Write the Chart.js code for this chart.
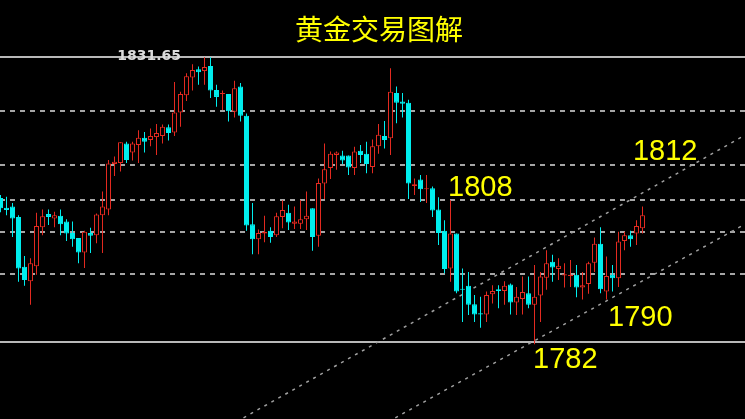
<!DOCTYPE html>
<html>
<head>
<meta charset="utf-8">
<script src="https://cdn.jsdelivr.net/npm/chart.js@4.4.1/dist/chart.umd.min.js"></script>
<style>
html,body{margin:0;padding:0;background:#000;overflow:hidden;}
#wrap{width:745px;height:419px;position:relative;background:#000;}
canvas{display:block;}
</style>
</head>
<body>
<div id="wrap"><canvas id="c" width="745" height="419"></canvas></div>
<script>
const titleText = '黄金交易图解';
const topLevelLabel = '1831.65';

const opens = [1807.1,1805.4,1805.6,1803.8,1795.1,1792.6,1795.2,1802.0,1804.3,1803.5,
1804.0,1803.0,1801.0,1800.1,1797.6,1801.0,1800.6,1804.1,1805.1,1813.0,
1813.2,1816.6,1815.0,1816.3,1817.6,1817.2,1817.7,1817.9,1819.4,1818.5,
1822.0,1825.0,1828.1,1829.5,1829.2,1830.1,1825.9,1825.2,1825.2,1822.1,
1826.5,1821.4,1802.5,1799.9,1800.9,1801.4,1800.6,1803.8,1804.5,1802.6,
1802.6,1803.4,1805.3,1800.5,1809.6,1812.3,1814.6,1814.5,1814.5,1812.3,
1815.3,1814.8,1812.5,1816.1,1817.9,1817.5,1825.4,1823.9,1823.7,1809.2,
1810.3,1808.6,1808.8,1805.1,1801.4,1794.8,1800.9,1791.3,1791.8,1788.6,
1787.0,1786.8,1790.3,1791.2,1790.9,1792.0,1788.9,1789.5,1790.5,1788.5,
1790.1,1793.2,1796.0,1794.7,1793.6,1793.5,1793.7,1791.5,1792.1,1795.8,
1799.1,1790.8,1793.7,1793.1,1799.6,1800.6,1800.9,1801.8];

const highs = [1807.6,1807.3,1806.2,1804.1,1797.0,1796.6,1804.5,1805.1,1805.1,1804.7,
1805.1,1803.4,1803.0,1800.1,1801.4,1801.9,1804.4,1808.2,1813.7,1814.3,
1816.8,1816.9,1816.9,1818.9,1818.6,1819.2,1820.0,1819.9,1819.9,1827.3,
1825.6,1828.8,1830.4,1830.0,1831.6,1831.6,1826.8,1825.8,1825.2,1827.5,
1827.1,1821.8,1806.2,1801.6,1804.0,1802.0,1804.5,1806.7,1805.9,1805.6,
1806.7,1808.2,1805.3,1810.5,1816.6,1815.2,1815.2,1815.3,1814.5,1816.0,
1816.3,1816.9,1817.3,1820.0,1820.5,1829.7,1826.5,1825.4,1824.2,1810.5,
1811.1,1811.1,1809.1,1807.2,1803.2,1806.7,1800.9,1794.8,1794.2,1790.2,
1789.9,1790.8,1791.9,1791.9,1792.6,1792.2,1791.6,1793.4,1793.4,1795.4,
1794.2,1798.0,1797.2,1796.6,1795.7,1796.3,1795.4,1794.2,1796.0,1800.2,
1802.0,1796.9,1795.4,1801.2,1801.2,1801.4,1803.2,1805.6];

const lows = [1804.6,1804.1,1800.3,1792.5,1791.8,1788.5,1793.7,1800.6,1802.4,1802.0,
1800.6,1799.6,1798.6,1795.7,1794.9,1797.5,1799.2,1797.5,1804.1,1810.9,
1811.7,1813.2,1813.6,1813.2,1815.0,1816.1,1814.6,1816.6,1817.1,1817.9,
1819.5,1824.0,1825.8,1826.8,1826.8,1824.5,1823.0,1822.4,1820.4,1821.1,
1820.4,1801.4,1797.3,1797.3,1799.4,1799.3,1800.3,1801.8,1801.5,1801.7,
1801.7,1801.5,1797.9,1798.6,1806.9,1810.4,1812.0,1813.0,1811.1,1811.1,
1813.2,1811.4,1811.4,1814.8,1815.7,1814.6,1820.1,1821.1,1806.9,1807.6,
1806.4,1806.2,1803.8,1798.9,1794.0,1792.5,1790.5,1785.5,1786.7,1785.5,
1784.5,1785.5,1788.7,1787.9,1788.5,1786.8,1786.7,1786.8,1787.9,1781.6,
1785.5,1791.1,1792.5,1792.8,1791.5,1791.6,1789.8,1789.4,1790.4,1794.2,
1790.5,1789.4,1790.8,1791.6,1798.0,1798.6,1798.9,1800.9];

const closes = [1805.3,1805.0,1803.5,1794.8,1792.8,1795.7,1802.2,1803.9,1803.8,1804.1,
1802.5,1800.9,1799.9,1797.6,1801.2,1800.5,1804.2,1805.6,1813.1,1813.4,
1816.8,1813.7,1816.6,1817.6,1816.9,1817.9,1818.4,1819.5,1818.4,1822.0,
1825.2,1828.3,1829.4,1829.0,1829.9,1825.8,1824.7,1825.4,1822.2,1826.2,
1821.4,1802.3,1799.9,1801.0,1801.2,1800.3,1803.9,1805.0,1802.8,1803.0,
1803.4,1804.0,1800.3,1809.7,1812.1,1814.8,1815.0,1813.6,1812.4,1815.2,
1814.6,1813.0,1816.1,1818.1,1817.2,1825.6,1823.7,1823.5,1809.6,1809.5,
1808.6,1808.8,1804.9,1801.0,1794.7,1800.9,1790.8,1791.1,1788.5,1786.8,
1786.8,1790.2,1790.9,1790.9,1791.8,1788.9,1789.9,1790.7,1788.5,1789.9,
1793.4,1795.7,1795.0,1795.3,1793.8,1793.7,1791.5,1791.9,1795.7,1799.1,
1791.2,1793.5,1793.1,1799.5,1800.6,1799.9,1802.2,1804.1];

const solidLevels = [1831.65, 1782.0];
const dashedLevels = [1822.2, 1812.8, 1806.8, 1801.1, 1793.8];

const trendLineUpper = [[40.5, 1768.8], [124.2, 1818.1]];
const trendLineLower = [[65.8, 1768.8], [124.2, 1802.6]];

const calloutTexts = ['1808', '1812', '1790', '1782'];
const calloutIdx   = [74.6, 105.4, 101.25, 88.75];
const calloutPrice = [1807.43, 1813.70, 1784.79, 1777.47];

const RED = '#e42a20';
const CYAN = '#00eeee';
const isUp = i => closes[i] >= opens[i];

const overlay = {
  id: 'overlay',
  beforeDatasetsDraw(chart) {
    const {ctx, chartArea: a, scales: {y}} = chart;
    ctx.save();
    ctx.strokeStyle = '#b8b8b8';
    ctx.lineWidth = 2;
    solidLevels.forEach(v => {
      const py = Math.round(y.getPixelForValue(v));
      ctx.beginPath(); ctx.moveTo(a.left, py); ctx.lineTo(a.right, py); ctx.stroke();
    });
    ctx.setLineDash([5, 5]);
    ctx.strokeStyle = '#a6a6a6';
    dashedLevels.forEach(v => {
      const py = Math.round(y.getPixelForValue(v));
      ctx.beginPath(); ctx.moveTo(a.left, py); ctx.lineTo(a.right, py); ctx.stroke();
    });
    ctx.restore();
  },
  afterDatasetsDraw(chart) {
    const {ctx, scales: {x, y}} = chart;
    ctx.save();
    // top level price label
    ctx.font = 'bold 14px "DejaVu Sans"';
    ctx.fillStyle = '#dcdcdc';
    ctx.textAlign = 'left';
    ctx.textBaseline = 'alphabetic';
    ctx.fillText(topLevelLabel, x.getPixelForValue(19.45), y.getPixelForValue(1831.13));
    // callouts
    ctx.font = '29px "Liberation Sans", Arial, sans-serif';
    ctx.fillStyle = '#ffff00';
    calloutTexts.forEach((t, i) => {
      ctx.fillText(t, x.getPixelForValue(calloutIdx[i]), y.getPixelForValue(calloutPrice[i]));
    });
    // title
    ctx.font = '28px "Noto Sans CJK SC", sans-serif';
    ctx.textAlign = 'center';
    ctx.textBaseline = 'middle';
    ctx.fillText(titleText, chart.width * 0.5087, 29);
    ctx.restore();
  }
};

new Chart(document.getElementById('c'), {
  type: 'bar',
  data: {
    datasets: [
      {
        label: 'body',
        data: opens.map((o, i) => ({x: i, y: [o, closes[i]]})),
        backgroundColor: c => (c.dataIndex === undefined ? CYAN : (isUp(c.dataIndex) ? '#000000' : CYAN)),
        borderColor: c => (c.dataIndex === undefined ? CYAN : (isUp(c.dataIndex) ? RED : CYAN)),
        borderWidth: 1,
        borderSkipped: false,
        barThickness: 5,
        minBarLength: 1,
        inflateAmount: 0,
        grouped: false,
        order: 0
      },
      {
        label: 'wick',
        data: lows.map((l, i) => ({x: i, y: [l, highs[i]]})),
        backgroundColor: c => (c.dataIndex === undefined ? CYAN : (isUp(c.dataIndex) ? RED : CYAN)),
        borderWidth: 0,
        barThickness: 1,
        minBarLength: 1,
        inflateAmount: 0,
        grouped: false,
        order: 1
      },
      {
        type: 'line',
        label: 'upper',
        data: trendLineUpper.map(([px, py]) => ({x: px, y: py})),
        borderColor: '#a0a0a0',
        borderWidth: 1.5,
        borderDash: [3, 5],
        pointRadius: 0,
        fill: false,
        order: 2
      },
      {
        type: 'line',
        label: 'lower',
        data: trendLineLower.map(([px, py]) => ({x: px, y: py})),
        borderColor: '#a0a0a0',
        borderWidth: 1.5,
        borderDash: [3, 5],
        pointRadius: 0,
        fill: false,
        order: 2
      }
    ]
  },
  options: {
    responsive: false,
    devicePixelRatio: 1,
    animation: false,
    events: [],
    layout: {padding: 0},
    plugins: {legend: {display: false}, tooltip: {enabled: false}, title: {display: false}},
    scales: {
      x: {type: 'linear', min: -0.0833, max: 124.0833, display: false, offset: false},
      y: {type: 'linear', min: 1768.59, max: 1841.58, display: false}
    }
  },
  plugins: [overlay]
});
</script>
</body>
</html>
